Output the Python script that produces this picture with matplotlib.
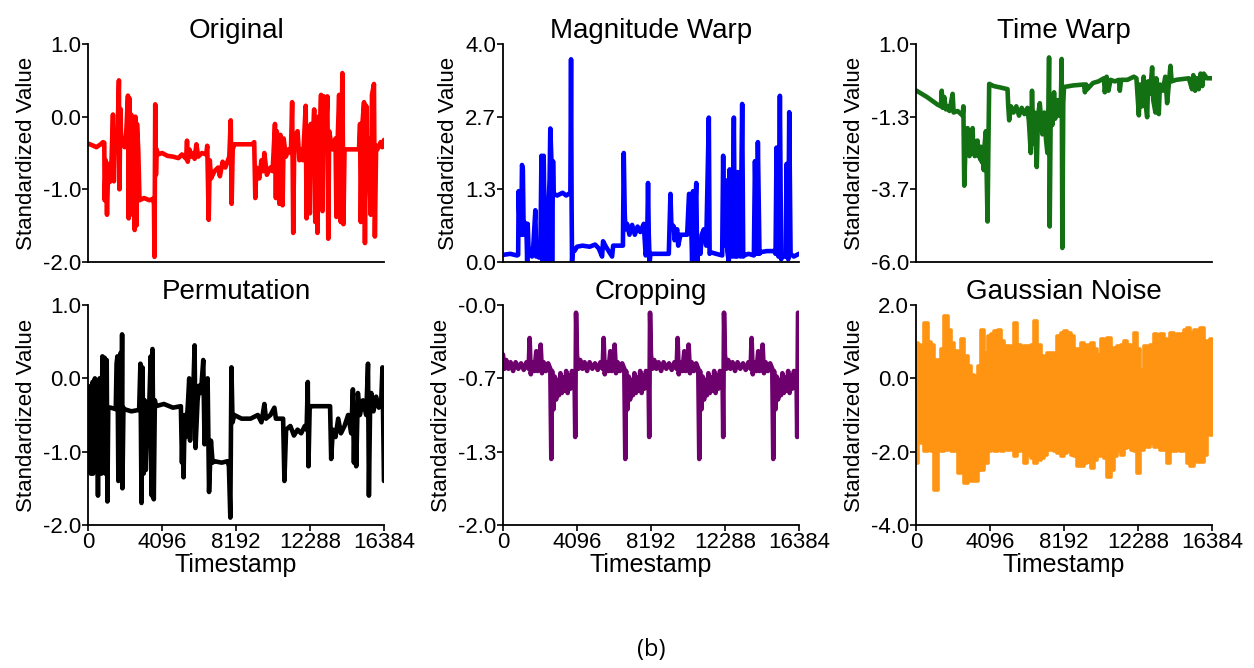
import matplotlib
matplotlib.use('Agg')
import matplotlib.pyplot as plt
import numpy as np

plt.rcParams['font.family'] = ['Liberation Sans', 'DejaVu Sans']

# (timestamp, value) vertices
original = [
    (0, -0.37), (300, -0.40), (460, -0.42), (700, -0.38), (830, -0.35), (900, -0.36),
    (920, -1.15), (980, -0.6), (1050, -1.35), (1120, -0.65), (1200, -0.9), (1300, -0.6),
    (1380, 0.03), (1430, -0.89), (1500, -0.3), (1560, -0.45), (1640, -0.2),
    (1710, 0.50), (1740, -1.0), (1790, 0.11), (1840, -0.4), (1920, -0.3), (2025, -0.42),
    (2120, -0.2), (2210, 0.29), (2250, -1.4), (2300, 0.25), (2350, -1.35), (2390, 0.03),
    (2430, -0.88), (2500, -0.2), (2580, -1.56), (2620, 0.0), (2680, -1.5), (2710, -0.1),
    (2780, -0.45), (2850, -1.15), (3100, -1.12), (3400, -1.15), (3590, -1.13), (3650, -1.2),
    (3680, -1.93), (3720, 0.17), (3760, -0.8), (3800, -0.45), (3870, -0.52), (4100, -0.5),
    (4400, -0.54), (4700, -0.55), (5000, -0.57), (5200, -0.52), (5430, -0.58), (5480, -0.33),
    (5520, -0.62), (5610, -0.45), (5700, -0.55), (5800, -0.5), (5900, -0.58), (6000, -0.38),
    (6100, -0.55), (6300, -0.5), (6540, -0.52), (6600, -0.4), (6680, -1.42), (6740, -0.6),
    (6810, -0.85), (7000, -0.75), (7200, -0.7), (7300, -0.82), (7450, -0.62), (7600, -0.7),
    (7820, -0.55), (7900, -0.05), (7950, -1.2), (8010, -0.45), (8100, -0.38), (8600, -0.38),
    (9100, -0.38), (9200, -0.35), (9260, -1.12), (9320, -0.7), (9480, -0.85), (9600, -0.6),
    (9700, -0.75), (9760, -0.5), (9900, -0.8), (10100, -0.7), (10220, -0.75), (10350, -0.1),
    (10400, -1.12), (10450, -0.2), (10590, -1.2), (10650, -0.25), (10770, -1.22), (10830, -0.3),
    (10950, -0.55), (11100, -0.45), (11230, -0.5), (11300, 0.2), (11360, -1.6), (11420, -0.3),
    (11600, -0.2), (11700, -0.6), (11780, -0.45), (11900, -0.6), (12050, 0.15), (12100, -1.4),
    (12150, -0.2), (12280, -1.33), (12330, -0.1), (12420, -0.45), (12520, 0.1), (12580, -1.45),
    (12650, -0.3), (12700, -1.6), (12750, 0.0), (12790, -0.5), (12900, 0.3), (12980, -1.3),
    (13050, 0.28), (13150, -0.4), (13250, 0.28), (13300, -1.68), (13350, -0.2), (13450, -0.35),
    (13530, -0.45), (13700, -0.3), (13750, -1.38), (13810, -0.4), (13900, 0.3), (13990, -1.45),
    (14080, 0.6), (14140, -1.48), (14200, -0.45), (14270, -0.45), (14600, -0.45), (15000, -0.45),
    (15060, -0.1), (15100, -1.45), (15160, -0.2), (15280, 0.2), (15330, -1.74), (15400, 0.15),
    (15460, -0.8), (15520, -0.3), (15650, -1.35), (15720, 0.3), (15830, 0.45), (15880, -1.65),
    (15950, -0.4), (16020, -0.45), (16200, -0.35), (16290, -0.42), (16384, -0.32),
]

magnitude_warp = [
    (0, 0.13), (400, 0.15), (776, 0.12), (840, 0.13), (868, 1.3), (900, 0.9), (960, 1.3),
    (1010, 0.5), (1053, 1.78), (1100, 1.7), (1145, 0.5), (1200, 0.72), (1293, 0.7), (1340, 0.0),
    (1367, 0.7), (1420, 0.2), (1515, 0.15), (1607, 0.1), (1680, 0.3), (1792, 0.95), (1840, 0.1),
    (1884, 0.2), (2000, 0.08), (2069, 0.12), (2130, 1.95), (2200, 0.0), (2253, 1.95), (2330, 0.05),
    (2400, 0.9), (2438, 0.0), (2500, 0.9), (2580, 1.5), (2620, 2.45), (2678, 1.9), (2720, 0.0),
    (2771, 1.85), (2807, 1.25), (3000, 1.22), (3300, 1.27), (3500, 1.22), (3731, 1.27),
    (3768, 3.72), (3800, 1.0), (3823, 0.0), (3870, 0.25), (3953, 0.2), (4100, 0.28), (4400, 0.3),
    (4800, 0.28), (5100, 0.32), (5300, 0.25), (5486, 0.1), (5541, 0.38), (5700, 0.28),
    (6040, 0.1), (6100, 0.3), (6300, 0.3), (6501, 0.3), (6640, 0.3), (6686, 2.0), (6740, 0.9),
    (6779, 0.6), (6871, 0.7), (7000, 0.5), (7150, 0.68), (7300, 0.5), (7450, 0.65), (7600, 0.55),
    (7794, 0.7), (7900, 0.12), (7979, 0.3), (8030, 1.45), (8071, 0.5), (8120, 0.0), (8164, 0.15),
    (8600, 0.15), (9180, 0.15), (9272, 1.25), (9320, 0.7), (9457, 0.65), (9500, 0.4),
    (9642, 0.6), (9700, 0.3), (9826, 0.5), (10000, 0.5), (10196, 0.5), (10300, 1.25),
    (10380, 1.2), (10473, 0.0), (10520, 1.3), (10565, 0.3), (10700, 1.45), (10750, 0.0),
    (10830, 0.25), (10935, 0.15), (11000, 0.5), (11120, 0.6), (11250, 0.3), (11396, 2.65),
    (11440, 0.15), (11488, 0.18), (11800, 0.15), (12135, 0.12), (12190, 1.95), (12240, 0.3),
    (12320, 1.5), (12420, 0.2), (12504, 0.0), (12550, 1.7), (12597, 1.0), (12700, 0.1),
    (12782, 2.65), (12840, 0.1), (12966, 0.1), (13000, 1.65), (13058, 1.6), (13150, 0.1),
    (13243, 2.9), (13300, 0.1), (13335, 0.12), (13600, 0.15), (13890, 0.12), (13950, 1.85),
    (14050, 0.15), (14111, 2.2), (14200, 0.15), (14259, 0.18), (14600, 0.2), (15000, 0.2),
    (15090, 0.15), (15145, 2.1), (15250, 0.1), (15330, 3.05), (15400, 0.05), (15459, 0.1),
    (15650, 0.1), (15700, 1.8), (15790, 0.05), (15847, 2.75), (15921, 0.15), (16100, 0.1),
    (16384, 0.15),
]

time_warp = [
    (0, -0.49), (600, -0.7), (1200, -0.95), (1380, -1.0), (1420, -0.5), (1480, -1.05),
    (1560, -0.7), (1657, -1.1), (1720, -1.0), (1850, -1.15), (2025, -0.6), (2080, -1.2),
    (2300, -1.15), (2480, -1.25), (2577, -1.3), (2620, -1.0), (2669, -3.55), (2720, -2.6),
    (2760, -1.9), (2790, -2.4), (2853, -1.7), (2890, -2.5), (2920, -2.0), (2960, -2.6),
    (3000, -2.2), (3040, -2.5), (3070, -2.0), (3130, -1.7), (3170, -2.4), (3200, -2.1),
    (3250, -2.6), (3300, -2.2), (3350, -2.5), (3400, -2.1), (3450, -2.6), (3500, -2.3),
    (3550, -2.7), (3600, -2.3), (3650, -2.8), (3700, -2.4), (3750, -3.05), (3800, -2.2),
    (3866, -1.8), (3958, -4.7), (4000, -2.5), (4050, -0.28), (4300, -0.35),
    (4700, -0.4), (5063, -0.45), (5100, -0.95), (5155, -1.45), (5250, -1.0), (5400, -1.2),
    (5550, -1.0), (5700, -1.3), (5850, -1.05), (6000, -1.25), (6167, -1.05), (6250, -1.5),
    (6351, -2.5), (6420, -0.5), (6499, -2.2), (6560, -1.2), (6683, -2.95), (6750, -1.3),
    (6850, -0.9), (6996, -1.9), (7100, -1.2), (7200, -2.1), (7272, -2.5), (7330, -1.0),
    (7364, 0.57), (7400, -4.86), (7456, -1.1), (7550, -1.6), (7640, -0.55), (7700, -1.4),
    (7824, -0.8), (7900, -1.3), (8008, -1.2), (8060, 0.52), (8100, -5.55), (8150, -0.9),
    (8192, -0.38), (8700, -0.33), (9297, -0.3), (9350, -0.55), (9420, -0.3), (9481, -0.45),
    (9800, -0.25), (10100, -0.2), (10402, -0.1), (10450, -0.55), (10550, -0.05), (10650, -0.5),
    (10770, -0.15), (11000, -0.2), (11230, -0.15), (11280, -0.5), (11350, -0.15), (11700, -0.15),
    (12059, -0.05), (12200, -0.1), (12335, -1.29), (12400, -0.3), (12500, -1.0), (12600, -0.05),
    (12700, -0.9), (12795, -1.35), (12850, -0.2), (12950, -0.6), (13071, 0.25), (13130, -0.8),
    (13255, -1.2), (13300, -0.1), (13439, -1.25), (13500, -0.3), (13650, -0.5), (13800, -0.05),
    (13900, -0.9), (14084, 0.3), (14150, -0.2), (14400, -0.15), (14800, -0.12), (15100, -0.1),
    (15280, -0.45), (15350, 0.0), (15450, -0.5), (15550, -0.1), (15650, -0.45), (15750, 0.05),
    (15850, -0.35), (15925, 0.05), (16100, -0.1), (16384, -0.1),
]

permutation = [
    (0, -0.1), (30, -1.2), (60, -0.3), (90, -1.25), (120, -0.15), (150, -1.3), (180, -0.2),
    (210, -1.1), (250, -0.05), (280, -1.3), (320, -0.1), (350, -1.2), (380, 0.0), (410, -1.25),
    (450, -0.1), (480, -1.2), (518, -0.2), (550, -1.6), (580, -0.1), (610, -1.3), (640, 0.0),
    (670, -1.25), (700, -0.2), (740, -1.3), (795, 0.3), (820, -1.2), (850, -0.3), (880, -1.25),
    (920, 0.28), (960, -1.3), (1000, -0.3), (1035, 0.25), (1072, -1.68), (1120, -0.4),
    (1257, -0.4), (1535, -0.42), (1580, 0.2), (1627, 0.3), (1680, -1.4), (1720, -0.4),
    (1812, 0.35), (1850, -1.3), (1886, 0.6), (1904, -1.5), (1960, -0.4), (1997, -0.42),
    (2400, -0.45), (2829, -0.43), (2900, 0.2), (2960, -1.7), (3014, 0.15), (3080, -1.3),
    (3140, -0.3), (3199, -1.25), (3300, -0.6), (3384, -0.4), (3470, 0.3), (3530, -1.6),
    (3568, 0.4), (3640, -1.65), (3700, -0.3), (3753, -0.38), (4200, -0.35), (4700, -0.4),
    (5140, -0.38), (5200, -1.15), (5250, -0.6), (5288, -1.35), (5350, -0.5), (5418, -0.8),
    (5540, -0.3), (5602, 0.0), (5650, -0.85), (5695, -0.5), (5800, -0.4), (5900, 0.45),
    (5950, -0.95), (6065, -0.3), (6150, -0.1), (6250, -0.2), (6379, 0.25), (6450, -0.9),
    (6527, -0.1), (6620, 0.0), (6700, -1.55), (6804, -0.85), (6897, -1.15), (6989, -1.13),
    (7400, -1.15), (7729, -1.13), (7800, -1.2), (7877, -1.9), (7940, 0.15), (8000, -0.6),
    (8099, -0.5), (8500, -0.55), (9000, -0.55), (9400, -0.5), (9600, -0.6), (9763, -0.35),
    (9850, -0.55), (10100, -0.5), (10317, -0.4), (10400, -0.55), (10800, -0.55), (10872, -1.4),
    (10965, -0.7), (11200, -0.65), (11400, -0.78), (11600, -0.7), (11800, -0.75), (12000, -0.65),
    (12100, -0.7), (12166, -0.05), (12203, -1.2), (12270, -0.4), (12351, -0.38), (12900, -0.38),
    (13400, -0.38), (13461, -1.1), (13553, -0.7), (13700, -0.8), (13850, -0.55), (14000, -0.75),
    (14200, -0.65), (14400, -0.5), (14570, -0.75), (14663, -0.15), (14720, -1.15), (14780, -0.4),
    (14847, -1.2), (14940, -0.2), (15050, -0.5), (15217, -0.3), (15400, -0.5), (15500, 0.2),
    (15550, -1.6), (15620, -0.3), (15680, -0.2), (15800, -0.45), (15950, -0.25), (16100, -0.4),
    (16234, -0.3), (16300, 0.15), (16384, -1.4),
]

# cropping shows the same 4096-step window four times
crop_window = [
    (0, -0.45), (80, -0.58), (180, -0.5), (300, -0.58), (420, -0.52), (560, -0.6), (700, -0.52),
    (850, -0.58), (1000, -0.53), (1150, -0.59), (1300, -0.52), (1420, -0.58), (1476, -0.3),
    (1540, -0.63), (1620, -0.52), (1740, -0.6), (1845, -0.42), (1920, -0.6), (2010, -0.52),
    (2085, -0.36), (2160, -0.62), (2250, -0.52), (2380, -0.6), (2500, -0.53), (2620, -0.58),
    (2675, -1.4), (2720, -0.6), (2790, -0.95), (2860, -0.65), (2940, -0.86), (3020, -0.68),
    (3100, -0.82), (3180, -0.62), (3260, -0.8), (3340, -0.66), (3420, -0.78), (3500, -0.6),
    (3580, -0.8), (3660, -0.64), (3740, -0.76), (3820, -0.6), (3900, -0.72), (3960, -0.62),
    (4000, -1.2), (4045, -0.07),
]
crop_starts = [0, 4096, 8192, 12288]

# gaussian noise: top / bottom swing of the band, evenly spaced over 0..16384
gauss_upper = [
    0.97, 0.92, 0.83, 1.52, 1.0, 0.92, 0.51, 0.51, 0.79, 1.70, 1.33, 0.97, 0.74, 0.70, 1.06,
    0.6, 0.33, 0.1, 0.06, 0.33, 1.33, 0.7, 1.15, 1.2, 1.29, 1.33, 1.02, 0.88, 0.88, 0.83,
    1.52, 0.92, 0.79, 0.88, 0.88, 0.9, 1.56, 0.92, 0.6, 0.51, 0.70, 0.70, 0.42, 1.15, 1.24,
    1.29, 1.24, 1.15, 0.79, 0.79, 0.97, 0.88, 0.92, 0.97, 0.79, 0.65, 1.06, 0.83, 1.11, 0.79,
    0.83, 0.88, 0.92, 1.02, 0.92, 0.88, 1.24, 0.79, 0.24, 0.88, 0.79, 0.92, 1.20, 1.15, 1.20,
    1.06, 1.02, 1.24, 0.97, 1.20, 1.20, 1.33, 1.38, 1.24, 1.33, 1.06, 1.38, 1.02, 1.02, 1.06,
]
gauss_lower = [
    -2.31, -1.67, -1.77, -1.99, -1.77, -1.99, -3.04, -1.90, -1.99, -1.95, -1.67, -1.99, -1.99,
    -2.59, -1.99, -2.86, -2.50, -2.81, -2.81, -2.50, -2.50, -2.31, -1.99, -1.81, -1.99, -1.81,
    -1.99, -1.86, -1.95, -1.81, -2.13, -1.99, -1.95, -2.31, -2.09, -2.18, -2.31, -2.22, -2.18,
    -2.09, -1.95, -1.95, -1.99, -2.04, -2.13, -2.04, -1.99, -2.09, -2.13, -2.40, -2.40, -2.31,
    -2.27, -2.45, -2.22, -2.13, -1.99, -2.18, -2.68, -2.50, -2.13, -1.99, -2.09, -1.90, -1.86,
    -1.95, -1.99, -2.59, -1.95, -1.63, -1.86, -1.77, -1.86, -1.72, -1.95, -1.95, -2.31, -1.99,
    -1.99, -1.81, -1.99, -1.86, -2.31, -2.40, -2.22, -2.27, -2.27, -2.09, -1.49, -1.54,
]

titles = ['Original', 'Magnitude Warp', 'Time Warp', 'Permutation', 'Cropping', 'Gaussian Noise']
colors = ['#ff0000', '#0000ff', '#137013', '#000000', '#6e006e', '#ff9312']
ylims = [(-2.0, 1.0), (0.0, 4.0), (-6.0, 1.0), (-2.0, 1.0), (-2.0, 0.0), (-4.0, 2.0)]
ytick_labels = [
    ['-2.0', '-1.0', '0.0', '1.0'],
    ['0.0', '1.3', '2.7', '4.0'],
    ['-6.0', '-3.7', '-1.3', '1.0'],
    ['-2.0', '-1.0', '0.0', '1.0'],
    ['-2.0', '-1.3', '-0.7', '-0.0'],
    ['-4.0', '-2.0', '0.0', '2.0'],
]
xticks = [0, 4096, 8192, 12288, 16384]


def split(pairs):
    arr = np.array(pairs, dtype=float)
    return arr[:, 0], arr[:, 1]


series = [split(original), split(magnitude_warp), split(time_warp), split(permutation)]

crop_t = np.concatenate([s + split(crop_window)[0] for s in crop_starts])
crop_v = np.concatenate([split(crop_window)[1] for s in crop_starts])
series.append((crop_t, crop_v))

gauss_t = np.linspace(0, 16384, len(gauss_upper))

fig = plt.figure(figsize=(12.54, 6.68), dpi=100)

lefts = [0.0702, 0.4011, 0.7305]
bottoms = [0.6078, 0.2141]
heights = [0.3263, 0.3293]

for i in range(6):
    row, col = divmod(i, 3)
    ax = fig.add_axes([lefts[col], bottoms[row], 0.236, heights[row]])
    if i < 5:
        t, v = series[i]
        ax.plot(t, v, color=colors[i], linewidth=3.3, solid_joinstyle='round', solid_capstyle='round')
    else:
        # dense noise reads as a solid band with blocky edges
        ax.fill_between(gauss_t, gauss_upper, gauss_lower, step='mid', color=colors[i],
                        edgecolor=colors[i], linewidth=2.6, joinstyle='round')

    ax.set_xlim(0, 16384)
    lo, hi = ylims[i]
    ax.set_ylim(lo, hi)
    ax.set_yticks(np.linspace(lo, hi, 4))
    ax.set_yticklabels(ytick_labels[i])

    for side in ['top', 'right']:
        ax.spines[side].set_visible(False)
    for side in ['left', 'bottom']:
        ax.spines[side].set_linewidth(1.3)

    ax.tick_params(axis='y', direction='out', length=4, width=1.2, pad=1, labelsize=16)
    if row == 0:
        ax.tick_params(axis='x', bottom=False, labelbottom=False)
    else:
        ax.set_xticks(xticks)
        ax.set_xticklabels([str(x) for x in xticks])
        ax.tick_params(axis='x', direction='out', length=4, width=1.2, pad=1, labelsize=16)
        ax.set_xlabel('Timestamp', fontsize=18, labelpad=0)

    ax.set_ylabel('Standardized Value', fontsize=16, labelpad=4)
    ax.set_title(titles[i], fontsize=20, pad=3 if row == 0 else 1)

fig.text(0.519, 0.027, '(b)', ha='center', va='center', fontsize=17, family=['Open Sans', 'DejaVu Sans'])

fig.savefig('out.png', dpi=100)
plt.close(fig)
